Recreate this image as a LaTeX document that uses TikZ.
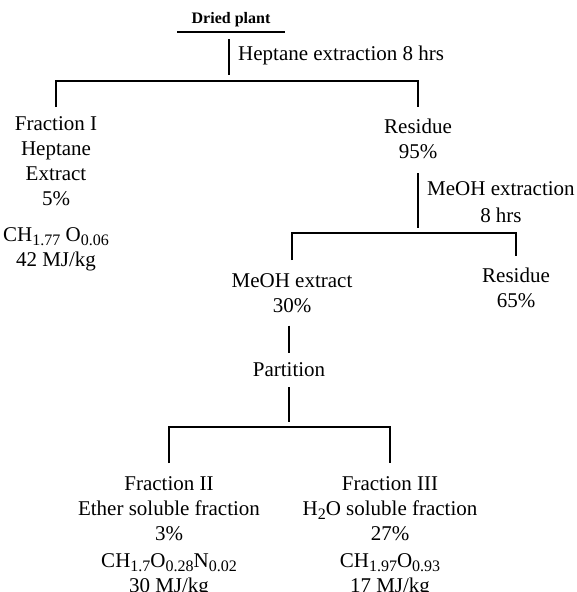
\documentclass[tikz,border=0pt]{standalone}
\usepackage{fontspec}
\setmainfont{Liberation Serif}
\usetikzlibrary{positioning}
\newcommand{\subs}[1]{\raisebox{-4.5pt}{\fontsize{16}{16}\selectfont #1}}
\tikzset{
  treeline/.style={line width=1.3pt},
  stage/.style={font=\fontsize{21}{25}\selectfont, align=center, inner xsep=0pt, inner ysep=9pt},
}

\begin{document}
\begin{tikzpicture}[x=1pt,y=-1pt]
\useasboundingbox (0,0) rectangle (577,592);

% starting material
\node[stage, anchor=south, minimum width=107pt, inner ysep=5pt, font=\fontsize{16}{18}\selectfont\bfseries] (dried) at (231,32) {Dried plant};
\draw[treeline] (dried.south west) -- (dried.south east);

\coordinate (d0) at (229,39);
\coordinate (d1) at (229,75);
\coordinate (b1) at (229,81);
\draw[treeline] (d0) -- (d1);
\node[stage, anchor=west] (hept) at (238,55) {Heptane extraction 8 hrs};

% first split
\node[stage, anchor=north] (frac1) at (56,107) {Fraction I\\Heptane\\Extract\\5\%\\[11pt]CH\subs{1.77} O\subs{0.06}\\42 MJ/kg};
\node[stage, anchor=north, inner ysep=12pt] (res1) at (418,107) {Residue\\95\%};
\draw[treeline] (frac1.north) |- (b1) -| (res1.north);

\coordinate (r0) at (418,173);
\coordinate (r1) at (418,228);
\coordinate (b2) at (418,233);
\draw[treeline] (r0) -- (r1);
\node[stage, anchor=west, inner ysep=0pt] (meohstep) at (427,202) {MeOH extraction\\[2pt]8 hrs};

% second split
\node[stage, anchor=north, inner ysep=13pt] (meoh) at (292,260) {MeOH extract\\30\%};
\node[stage, anchor=north, inner ysep=12pt] (res2) at (516,256) {Residue\\65\%};
\draw[treeline] (meoh.north) |- (b2) -| (res2.north);

\node[stage, inner ysep=0pt, minimum height=34pt] (part) at (289,370) {Partition};
\draw[treeline] (meoh.south -| part.north) -- (part.north);

\coordinate (p1) at (289,422);
\coordinate (b3) at (289,427);
\draw[treeline] (part.south) -- (p1);

% partition products
\node[stage, anchor=north, inner ysep=13pt] (frac2) at (169,463) {Fraction II\\Ether soluble fraction\\3\%\\[2pt]CH\subs{1.7}O\subs{0.28}N\subs{0.02}\\30 MJ/kg};
\node[stage, anchor=north, inner ysep=13pt] (frac3) at (390,463) {Fraction III\\H\subs{2}O soluble fraction\\27\%\\[2pt]CH\subs{1.97}O\subs{0.93}\\17 MJ/kg};
\draw[treeline] (frac2.north) |- (b3) -| (frac3.north);

\end{tikzpicture}
\end{document}
